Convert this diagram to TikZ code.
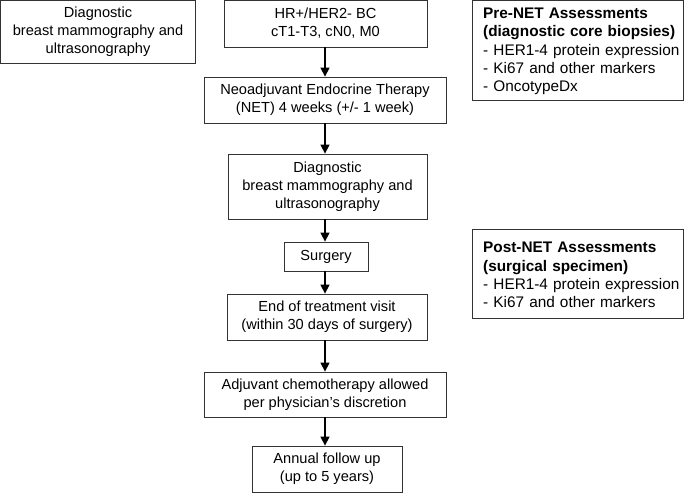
\documentclass[tikz,border=0pt]{standalone}
\usepackage{fontspec}
\setmainfont{Liberation Sans}
\usetikzlibrary{arrows.meta}
\begin{document}
\begin{tikzpicture}[x=1pt,y=-1pt,
  box/.style={draw=black!80, line width=0.8pt, align=center, inner sep=0pt,
    font=\fontsize{14.6pt}{18pt}\selectfont},
  note/.style={align=left, inner sep=0pt, text width=200pt, anchor=west,
    font=\fontsize{15.35pt}{18.2pt}\selectfont},
  frame/.style={draw=black!80, line width=0.8pt},
  flow/.style={line width=1.3pt, -{Triangle[length=9pt,width=9pt]}}]
\useasboundingbox (0,0) rectangle (685,493);
\node[box, minimum width=195pt, minimum height=63.5pt] (d0) at (98,32) {Diagnostic\\breast mammography and\\ultrasonography};
\node[box, minimum width=203pt, minimum height=47pt] (hr) at (325.5,23.5) {HR+/HER2- BC\\cT1-T3, cN0, M0};
\node[box, minimum width=242pt, minimum height=46pt] (net) at (325,100) {Neoadjuvant Endocrine Therapy\\(NET) 4 weeks (+/- 1 week)};
\node[box, minimum width=199pt, minimum height=65pt] (d1) at (327.5,186.5) {Diagnostic\\breast mammography and\\ultrasonography};
\node[box, minimum width=84pt, minimum height=29pt] (surg) at (326,256.5) {Surgery};
\node[box, minimum width=200pt, minimum height=46pt] (end) at (327,317) {End of treatment visit\\(within 30 days of surgery)};
\node[box, minimum width=242pt, minimum height=45pt] (adj) at (325,394.5) {Adjuvant chemotherapy allowed\\per physician’s discretion};
\node[box, minimum width=150pt, minimum height=46pt] (ann) at (327,469) {Annual follow up\\(up to 5 years)};
\draw[frame] (472,0.4) rectangle (683,100);
\node[note] (pre) at (483,51.5) {\textbf{Pre-NET Assessments}\\\textbf{(diagnostic core biopsies)}\\- HER1-4 protein expression\\- Ki67 and other markers\\- OncotypeDx};
\draw[frame] (472,229) rectangle (683,318);
\node[note] (post) at (483,275) {\textbf{Post-NET Assessments}\\\textbf{(surgical specimen)}\\- HER1-4 protein expression\\- Ki67 and other markers};
\draw[flow] (hr.south -| 325,0) -- (net.north -| 325,0);
\draw[flow] (net.south -| 325,0) -- (d1.north -| 325,0);
\draw[flow] (d1.south -| 325,0) -- (surg.north -| 325,0);
\draw[flow] (surg.south -| 325,0) -- (end.north -| 325,0);
\draw[flow] (end.south -| 325,0) -- (adj.north -| 325,0);
\draw[flow] (adj.south -| 325,0) -- (ann.north -| 325,0);
\end{tikzpicture}
\end{document}
